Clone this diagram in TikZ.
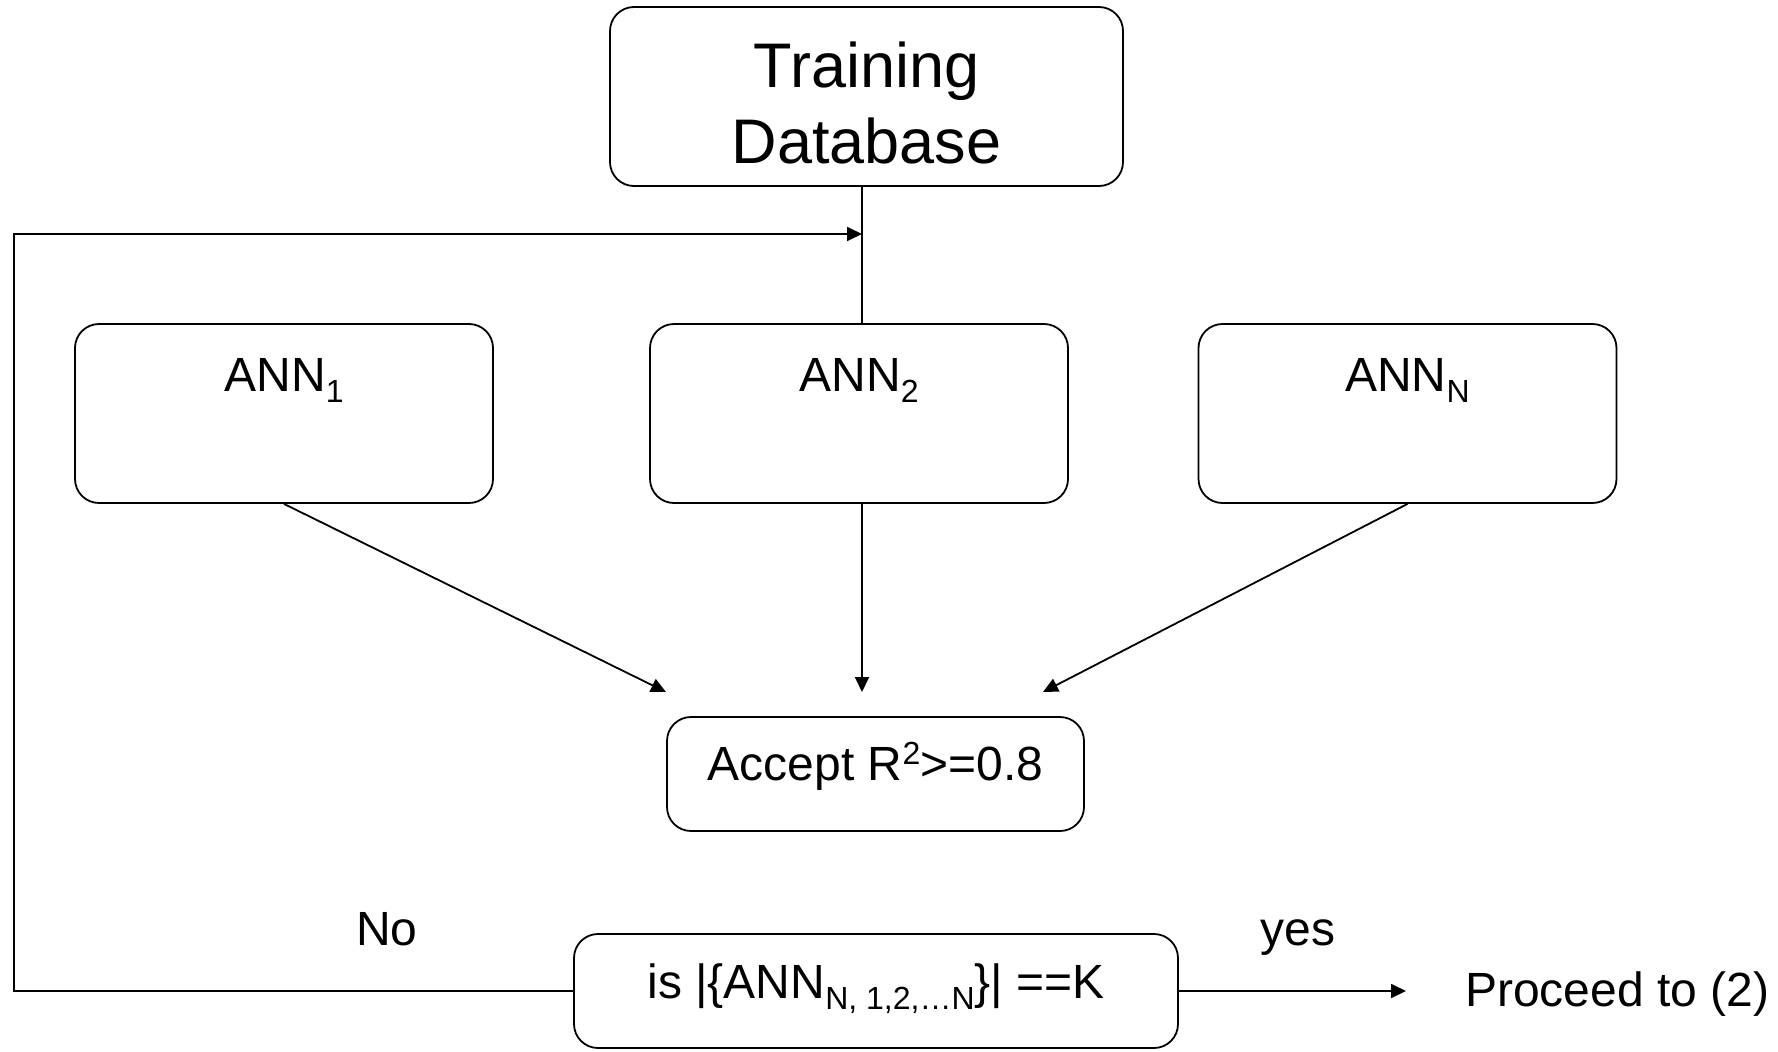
\documentclass[tikz,border=0pt]{standalone}
\usepackage{fontspec}
\setmainfont{Liberation Sans}
\usetikzlibrary{arrows.meta}
% small raised / lowered indices in the label font
\newcommand\dsub[1]{\raisebox{-0.23em}{\fontsize{32}{32}\selectfont #1}}
\newcommand\dsup[1]{\raisebox{0.33em}{\fontsize{32}{32}\selectfont #1}}

\begin{document}
\begin{tikzpicture}[x=1pt,y=-1pt,
  box/.style={draw, line width=1.8pt, rounded corners=24pt, inner sep=0pt,
    font=\fontsize{48}{58}\selectfont},
  annbox/.style={box, minimum width=418pt, minimum height=179pt,
    text height=67pt, text depth=112pt},
  arr/.style={-{Triangle[length=15pt,width=14pt]}, line width=1.8pt},
  link/.style={line width=1.8pt},
  lbl/.style={inner sep=0pt, font=\fontsize{48}{58}\selectfont}]
\useasboundingbox (0,0) rectangle (1778,1052);

% boxes
\node[box, minimum width=513pt, minimum height=179pt, align=center,
  font=\fontsize{63}{76}\selectfont, text height=156pt, text depth=23pt]
  (train) at (866.5,96.5) {Training\\Database};
\node[annbox] (ann1) at (284,413.5) {ANN\dsub{1}};
\node[annbox] (ann2) at (859,413.5) {ANN\dsub{2}};
\node[annbox] (annN) at (1407.5,413.5) {ANN\dsub{N}};
\node[box, minimum width=417pt, minimum height=114pt,
  text height=63pt, text depth=51pt] (acc) at (875.5,774) {Accept R\dsup{2}>=0.8};
\node[box, minimum width=604pt, minimum height=114pt,
  text height=64pt, text depth=50pt] (chk) at (876,991)
  {is |\{ANN\dsub{N, 1,2,…N}\}| ==K};

% free ends of connectors
\coordinate (j) at (862,234);
\coordinate (lt) at (14,234);
\coordinate (e1) at (666,692);
\coordinate (e2) at (862,692);
\coordinate (e3) at (1043,692);
\coordinate (pe) at (1406,991);

% labels
\node[lbl, anchor=base] (no) at (387,945) {No};
\node[lbl, anchor=base] (yes) at (1298,945) {yes};
\node[lbl, anchor=base west] (next) at (1465,1006) {Proceed to (2)};

% connectors
\draw[link] (train.south -| j) -- (ann2.north -| j);
\draw[arr] (ann1.south) -- (e1);
\draw[arr] (ann2.south -| e2) -- (e2);
\draw[arr] (annN.south) -- (e3);
\draw[arr] (chk.west) -- (chk.west -| lt) -- (lt) -- (j);
\draw[arr] (chk.east) -- (pe);
\end{tikzpicture}
\end{document}
